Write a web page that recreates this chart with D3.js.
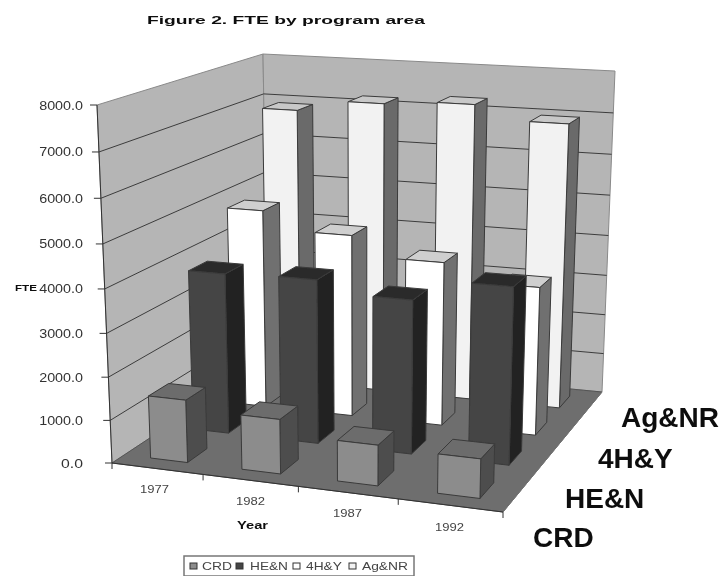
<!DOCTYPE html>
<html><head><meta charset="utf-8">
<script src="https://cdn.jsdelivr.net/npm/d3@7/dist/d3.min.js"></script>
<style>html,body{margin:0;background:#fff}svg{display:block}text{font-family:"Liberation Sans",Arial,sans-serif}</style>
</head><body><svg id="c" width="725" height="578"></svg>
<script>
const years = ["1977","1982","1987","1992"];
const seriesNames = ["CRD","HE&N","4H&Y","Ag&NR"];
const crd  = [1460,1260,930,890];
const hen  = [3820,3870,3600,4100];
const fourH= [4850,4420,3950,3550];
const agnr = [6900,7180,7280,6950];
const seriesValues = [crd,hen,fourH,agnr];
const yTicks = [0,1000,2000,3000,4000,5000,6000,7000,8000];

const fills = [
 {front:"#8c8c8c",side:"#4e4e4e",top:"#6c6c6c"},
 {front:"#444444",side:"#222222",top:"#2c2c2c"},
 {front:"#ffffff",side:"#707070",top:"#cfcfcf"},
 {front:"#f2f2f2",side:"#6a6a6a",top:"#c8c8c8"}];

function homography(q){
  const [[x0,y0],[x1,y1],[x2,y2],[x3,y3]]=q;
  const dx1=x1-x2,dx2=x3-x2,sx=x0-x1+x2-x3,dy1=y1-y2,dy2=y3-y2,sy=y0-y1+y2-y3;
  const D=dx1*dy2-dx2*dy1,g=(sx*dy2-dx2*sy)/D,h=(dx1*sy-sx*dy1)/D;
  return (u,w)=>[(x1-x0+g*x1)*u+(x3-x0+h*x3)*w+x0,(y1-y0+g*y1)*u+(y3-y0+h*y3)*w+y0,g*u+h*w+1];
}
const floorH = homography([[112,463],[503,512],[602,392],[268,360]]);
const topH   = homography([[97,105],[512,131],[615,71],[263,54]]);
const K = 0.946;
const xS = d3.scaleBand().domain(years).range([0,1]);
const zS = d3.scaleBand().domain(seriesNames).range([0,1]);
const yS = d3.scaleLinear().domain([0,8000]).range([0,1]);
function P(u,val,w){
  const v=yS(val),a=floorH(u,w),b=topH(u,w),
   h=[0,1,2].map(i=>(1-v)*a[i]+v*K*b[i]);
  return [h[0]/h[2],h[1]/h[2]];
}
const line=d3.line().curve(d3.curveLinearClosed);
const svg=d3.select("#c");
const defs=svg.append("defs");
defs.append("filter").attr("id","soft").attr("x",0).attr("y",0).attr("width",1).attr("height",1)
  .append("feGaussianBlur").attr("stdDeviation",0.6);
const g=svg.append("g").attr("filter","url(#soft)");
const poly=(pts,fill,stroke="#3a3a3a",sw=1)=>g.append("path").attr("d",line(pts)).attr("fill",fill).attr("stroke",stroke).attr("stroke-width",sw).attr("stroke-linejoin","round");
const wallC="#b5b5b5",wallS="#8a8a8a";
poly([P(0,0,0),P(0,8000,0),P(0,8000,1),P(0,0,1)],wallC,wallS);
poly([P(0,0,1),P(0,8000,1),P(1,8000,1),P(1,0,1)],wallC,wallS);
poly([P(0,0,0),P(1,0,0),P(1,0,1),P(0,0,1)],"#6e6e6e","#555");
yTicks.slice(1,-1).forEach(t=>{
  g.append("path").attr("d",d3.line()([P(0,t,0),P(0,t,1),P(1,t,1)])).attr("fill","none").attr("stroke","#3c3c3c").attr("stroke-width",1);
});
g.append("path").attr("d",d3.line()([P(0,8000,0),P(0,0,0)])).attr("stroke","#333").attr("fill","none");
g.append("path").attr("d",d3.line()([P(0,0,0),P(1,0,0)])).attr("stroke","#333").attr("fill","none");
g.append("path").attr("d",d3.line()([P(1,0,0),P(1,0,1)])).attr("stroke","#777").attr("fill","none");
const T=(x,y,t,size,opt={})=>{
  const e=g.append("text").attr("x",x).attr("y",y).attr("font-size",size)
  .attr("font-weight",opt.b?"bold":null).attr("fill",opt.c||"#222").attr("text-anchor",opt.a||"start").text(t);
  if(opt.len) e.attr("textLength",opt.len).attr("lengthAdjust","spacingAndGlyphs");
  return e;
};
yTicks.forEach(t=>{
  const p=P(0,t,0);
  g.append("line").attr("x1",p[0]-7).attr("x2",p[0]).attr("y1",p[1]).attr("y2",p[1]).attr("stroke","#333");
  const s=t.toFixed(1);
  T(83,p[1]+4.5,s,12,{a:"end",c:"#333",len:s.length*7.3});
});
[...years.map(y=>xS(y)),1].forEach(u=>{
  const p=P(u,0,0);
  g.append("line").attr("x1",p[0]).attr("x2",p[0]).attr("y1",p[1]).attr("y2",p[1]+6).attr("stroke","#333");
});
const barU=0.41, barW=0.46;
for(let s=3;s>=0;s--){
  years.forEach((y,i)=>{
    const val=seriesValues[s][i],f=fills[s];
    const uc=xS(y)+xS.bandwidth()/2, wc=zS(seriesNames[s])+zS.bandwidth()/2;
    const u0=uc-xS.bandwidth()*barU/2,u1=uc+xS.bandwidth()*barU/2,
          w0=wc-zS.bandwidth()*barW/2,w1=wc+zS.bandwidth()*barW/2;
    poly([P(u1,0,w0),P(u1,val,w0),P(u1,val,w1),P(u1,0,w1)],f.side);
    poly([P(u0,val,w0),P(u1,val,w0),P(u1,val,w1),P(u0,val,w1)],f.top);
    poly([P(u0,0,w0),P(u1,0,w0),P(u1,val,w0),P(u0,val,w0)],f.front);
  });
}
T(147,24,"Figure 2. FTE by program area",10.5,{b:1,c:"#111",len:278});
T(15,291,"FTE",9.5,{b:1,c:"#111",len:22});
T(237,529,"Year",10,{b:1,c:"#111",len:31});
const yearPos=[[140,493],[236,505],[333,517],[435,531]];
years.forEach((y,i)=>T(yearPos[i][0],yearPos[i][1],y,11,{c:"#444",len:29}));
const labelPos=[[533,547],[565,508],[598,468],[621,427]];
seriesNames.forEach((n,i)=>T(labelPos[i][0],labelPos[i][1],n,28,{b:1,c:"#111"}));
g.append("rect").attr("x",184).attr("y",556).attr("width",230).attr("height",20).attr("fill","#fff").attr("stroke","#777").attr("stroke-width",1.5);
const legX=[[190,202],[236,250],[293,306],[349,362]];
const legW=[30,38,36,46];
seriesNames.forEach((n,i)=>{
  g.append("rect").attr("x",legX[i][0]).attr("y",563).attr("width",7).attr("height",6).attr("fill",fills[i].front).attr("stroke","#333");
  T(legX[i][1],570,n,11,{c:"#444",len:legW[i]});
});
</script></body></html>
